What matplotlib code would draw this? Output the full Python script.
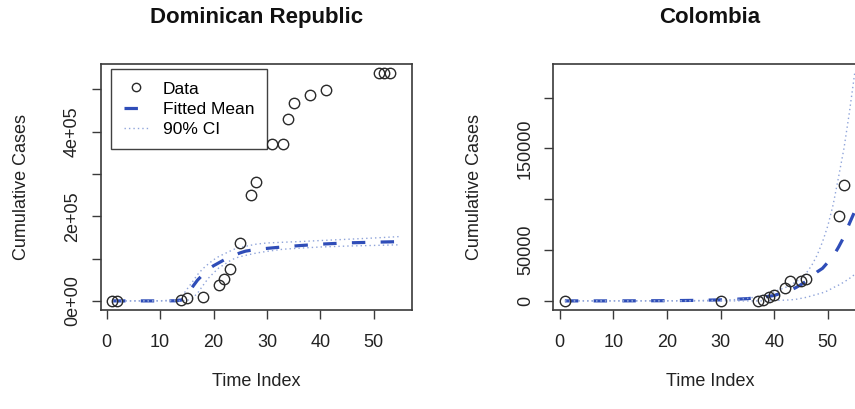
import matplotlib
matplotlib.use("Agg")
import matplotlib.pyplot as plt
from matplotlib.ticker import FixedLocator, FixedFormatter

plt.rcParams['font.family'] = ['Liberation Sans', 'DejaVu Sans']

# Dominican Republic: observed cumulative cases
dr_t = [1, 2, 14, 15, 18, 21, 22, 23, 25, 27, 28, 31, 33, 34, 35, 38, 41, 51, 52, 53]
dr_cases = [0, 0, 2500, 7000, 8500, 37000, 52000, 76000, 136000, 251000, 281000,
            370000, 370000, 429000, 467000, 486000, 499000, 538000, 538000, 538000]
# Dominican Republic: fitted mean and 90% band
dr_fit_t = [1, 5, 10, 13, 14, 15, 16, 17, 18, 19, 20, 21, 22, 23, 24, 25, 26, 28, 30,
            33, 36, 40, 45, 50, 55]
dr_mean = [0, 0, 0, 300, 2000, 14000, 32000, 49000, 62000, 74000, 83000, 90000, 97000,
           103000, 108600, 113500, 117500, 121500, 124000, 127500, 130500, 134000,
           137000, 138600, 140000]
dr_upper = [0, 0, 200, 2500, 9000, 27000, 44000, 62000, 76000, 87000, 97000, 105000,
            111000, 117000, 122800, 126000, 129000, 134000, 136800, 138500, 140000,
            142500, 145500, 148500, 152000]
dr_lower = [0, 0, 0, 0, 0, 500, 6000, 18000, 36000, 53000, 66000, 78000, 86000, 94000,
            100700, 104500, 107500, 113000, 117000, 122000, 124500, 127300, 129500,
            131000, 132500]

# Colombia: observed cumulative cases
co_t = [1, 30, 37, 38, 39, 40, 42, 43, 45, 46, 52, 53]
co_cases = [0, 0, 100, 700, 3900, 5600, 13100, 19700, 19500, 22000, 83700, 113900]
# Colombia: fitted mean and 90% band
co_fit_t = [1, 10, 20, 25, 30, 33, 35, 37, 39, 40, 42, 43, 44, 45, 46, 47, 48, 49, 50,
            51, 52, 53, 54, 55]
co_mean = [0, 0, 200, 500, 1000, 1700, 2200, 3200, 4500, 5300, 9000, 10500, 13000,
           16000, 19500, 24000, 28500, 32000, 38000, 44000, 53000, 63000, 76000, 88000]
co_upper = [0, 0, 100, 300, 700, 1300, 2500, 4200, 7000, 9000, 13000, 15500, 18500,
            22000, 27500, 35000, 45000, 58000, 74000, 95000, 122000, 150000, 185000,
            224000]
co_lower = [0, 0, 0, 0, 0, 0, 0, 0, 0, 400, 700, 1000, 1500, 2500, 3500, 5000, 6500,
            8000, 10000, 13000, 15500, 18500, 22000, 26000]

MEAN_COL = '#2f4db8'
CI_COL = '#8fa4da'
BOX_COL = '#3a3a3a'
FS = 13


def draw_panel(ax, title, t, cases, fit_t, mean, lower, upper, ymax, yticks, ylabels):
    pts, = ax.plot(t, cases, 'o', ms=7.5, mfc='none', mec='#2a2a2a', mew=1.0,
                   label='Data', zorder=3)
    mline, = ax.plot(fit_t, mean, color=MEAN_COL, lw=2.3, ls=(0, (4.2, 4.8)),
                     label='Fitted Mean', zorder=2)
    cil, = ax.plot(fit_t, upper, color=CI_COL, lw=1.0, ls=(0, (1, 2.2)),
                   label='90% CI', zorder=2)
    ax.plot(fit_t, lower, color=CI_COL, lw=1.0, ls=(0, (1, 2.2)), zorder=2)

    xr = max(fit_t) - min(fit_t)
    ax.set_xlim(min(fit_t) - 0.04 * xr, max(fit_t) + 0.04 * xr)
    ax.set_ylim(-0.04 * ymax, ymax * 1.04)

    ax.xaxis.set_major_locator(FixedLocator([0, 10, 20, 30, 40, 50]))
    ax.yaxis.set_major_locator(FixedLocator(yticks))
    ax.yaxis.set_major_formatter(FixedFormatter(ylabels))
    ax.tick_params(axis='both', direction='out', length=6.5, width=1.0,
                   colors=BOX_COL, labelcolor='#222222', labelsize=FS)
    ax.tick_params(axis='x', pad=11)
    ax.tick_params(axis='y', pad=7.5)
    for lab in ax.get_yticklabels():
        lab.set_rotation(90)
        lab.set_va('center')
    for sp in ax.spines.values():
        sp.set_color(BOX_COL)
        sp.set_linewidth(1.2)

    ax.set_xlabel('Time Index', fontsize=FS, color='#222222')
    ax.set_ylabel('Cumulative Cases', fontsize=FS, color='#222222')
    ax.xaxis.set_label_coords(0.5, -0.255)
    ax.yaxis.set_label_coords(-0.225, 0.5)
    ax.text(0.5, 1.187, title, transform=ax.transAxes, ha='center', va='center',
            fontsize=16, fontweight='bold', color='#111111')
    return pts, mline, cil


fig = plt.figure(figsize=(8.55, 4.09), dpi=100)
ax1 = fig.add_axes([100.5 / 855, 99 / 409, 311.5 / 855, 246 / 409])
ax2 = fig.add_axes([553.3 / 855, 99 / 409, 313 / 855, 246 / 409])

handles = draw_panel(ax1, 'Dominican Republic', dr_t, dr_cases, dr_fit_t, dr_mean,
                     dr_lower, dr_upper, max(dr_cases),
                     [0, 100000, 200000, 300000, 400000, 500000],
                     ['0e+00', '', '2e+05', '', '4e+05', ''])
draw_panel(ax2, 'Colombia', co_t, co_cases, co_fit_t, co_mean, co_lower, co_upper,
           max(co_upper), [0, 50000, 100000, 150000, 200000],
           ['0', '50000', '', '150000', ''])

leg = ax1.legend(handles=handles, loc='upper left', bbox_to_anchor=(0.034, 0.98),
                 borderaxespad=0, fontsize=12.5, frameon=True, fancybox=False,
                 edgecolor='#111111', handlelength=1.4, handletextpad=0.85,
                 borderpad=0.72, labelspacing=0.28, markerscale=0.8)
leg.get_frame().set_linewidth(1.0)

fig.savefig('out.png', dpi=100)
